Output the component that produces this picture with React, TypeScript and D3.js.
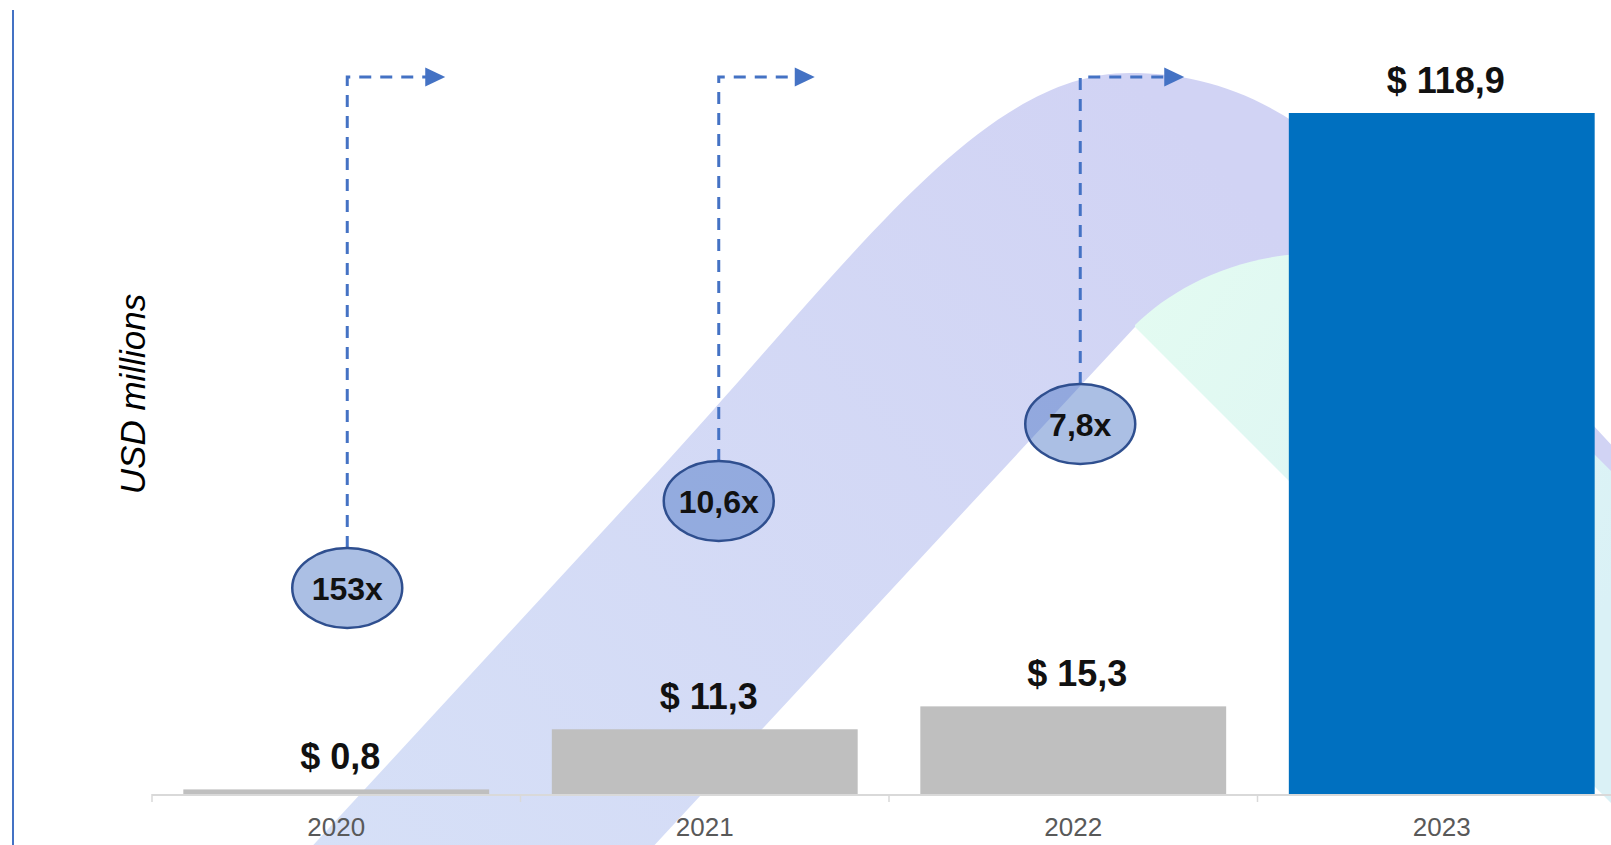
import React from "react";
import * as d3 from "d3";

// ---- data ----
const years = ["2020", "2021", "2022", "2023"];
const revenue = [0.8, 11.3, 15.3, 118.9];
const multiples = ["153x", "10,6x", "7,8x"];
const axisTitle = "USD millions";

// ---- layout ----
const W = 1611;
const H = 845;
const baseY = 794;
const badgeY = [588, 501, 424];
const badgeDx = [11, 14, 7];
const arrowLen = [98, 96, 104];
const arrowY = 77;

const FONT = "'Liberation Sans', Arial, Helvetica, sans-serif";

export default function App() {
  const x = d3
    .scaleBand<string>()
    .domain(years)
    .range([152, 1626])
    .paddingInner(0.17)
    .paddingOuter(0.085);
  const y = d3.scaleLinear().domain([0, 130]).range([baseY, baseY - 130 * 5.7275]);
  const step = x.step();
  const bw = x.bandwidth();
  const fmt = (v: number) => "$ " + v.toFixed(1).replace(".", ",");

  // decorative lavender ribbon
  const C = { x: 1135, y: 327 };
  const u = { x: 0.678, y: -0.735 };
  const n = { x: 0.735, y: 0.678 };
  const p0 = { x: 650, y: 480 };
  const start = { x: p0.x - 600 * u.x, y: p0.y - 600 * u.y };
  const rib = d3.path();
  rib.moveTo(start.x, start.y);
  rib.lineTo(p0.x, p0.y);
  rib.bezierCurveTo(p0.x + 300 * u.x, p0.y + 300 * u.y, 980, 73, 1130, 73);
  rib.bezierCurveTo(1210, 73, 1290, 100, 1380, 195);
  rib.lineTo(1380 + 600, 195 + 600 * 1.08);
  rib.lineTo(C.x + 900 + 1.5, C.y + 900 - 1.5);
  rib.lineTo(C.x + 1.5, C.y - 1.5);
  rib.lineTo(C.x, C.y);
  rib.lineTo(start.x + 250 * n.x, start.y + 250 * n.y);
  rib.closePath();

  const mint = d3.path();
  mint.moveTo(C.x, C.y - 2);
  mint.bezierCurveTo(1170, 290, 1230, 258, 1300, 254);
  mint.bezierCurveTo(1380, 252, 1500, 360, 1597, 457);
  mint.lineTo(1900, 760);
  mint.lineTo(C.x + 900, C.y + 900);
  mint.lineTo(C.x, C.y);
  mint.closePath();

  return (
    <div style={{ position: "absolute", left: 0, top: 0, width: W, height: H, background: "#fff" }}>
      <svg width={W} height={H} style={{ display: "block" }}>
        <defs>
          <linearGradient id="lav" gradientUnits="userSpaceOnUse" x1={300} y1={845} x2={1135} y2={75}>
            <stop offset="0" stopColor="#d6e0f7" />
            <stop offset="1" stopColor="#d1d3f4" />
          </linearGradient>
          <linearGradient id="mint" gradientUnits="userSpaceOnUse" x1={1135} y1={300} x2={1611} y2={600}>
            <stop offset="0" stopColor="#e3fbf1" />
            <stop offset="1" stopColor="#daf1f6" />
          </linearGradient>
        </defs>
        <rect x={0} y={0} width={W} height={H} fill="#fff" />
        <line x1={13} y1={10} x2={13} y2={H} stroke="#4472c4" strokeWidth={2} />

        {/* decorative ribbons */}
        <path d={rib.toString()} fill="url(#lav)" />
        <path d={mint.toString()} fill="url(#mint)" />

        {/* bars */}
        {years.map((yr, i) => (
          <rect
            key={yr}
            x={x(yr)}
            y={y(revenue[i])}
            width={bw}
            height={baseY - y(revenue[i])}
            fill={i === years.length - 1 ? "#0070c0" : "#bfbfbf"}
          />
        ))}

        {/* axis */}
        <line x1={152} y1={baseY + 1} x2={W} y2={baseY + 1} stroke="#d9d9d9" strokeWidth={2} />
        {years.map((yr, i) => (
          <line
            key={"t" + yr}
            x1={152 + i * step}
            x2={152 + i * step}
            y1={baseY}
            y2={baseY + 8}
            stroke="#d9d9d9"
            strokeWidth={1.5}
          />
        ))}
        {years.map((yr) => (
          <text
            key={"l" + yr}
            x={(x(yr) as number) + bw / 2}
            y={836}
            textAnchor="middle"
            fontFamily={FONT}
            fontSize={26}
            fill="#595959"
          >
            {yr}
          </text>
        ))}

        {/* value labels */}
        {years.map((yr, i) => (
          <text
            key={"v" + yr}
            x={(x(yr) as number) + bw / 2 + 4}
            y={y(revenue[i]) - 20}
            textAnchor="middle"
            fontFamily={FONT}
            fontWeight="bold"
            fontSize={36}
            fill="#111"
          >
            {fmt(revenue[i])}
          </text>
        ))}

        {/* y title */}
        <text
          transform={`translate(145,394) rotate(-90)`}
          textAnchor="middle"
          fontFamily={FONT}
          fontStyle="italic"
          fontSize={35}
          fill="#000"
        >
          {axisTitle}
        </text>

        {/* growth badges with dashed arrows */}
        {multiples.map((m, i) => {
          const cx = (x(years[i]) as number) + bw / 2 + badgeDx[i];
          const cy = badgeY[i];
          const rx = 55;
          const ry = 40;
          const L = arrowLen[i];
          return (
            <g key={"m" + i}>
              <path
                d={`M${cx},${cy - ry} L${cx},${arrowY} L${cx + L - 18},${arrowY}`}
                fill="none"
                stroke="#4472c4"
                strokeWidth={3}
                strokeDasharray="12 9"
              />
              <polygon
                points={`${cx + L},${arrowY} ${cx + L - 20},${arrowY - 9.5} ${cx + L - 20},${arrowY + 9.5}`}
                fill="#4472c4"
              />
              <ellipse
                cx={cx}
                cy={cy}
                rx={rx}
                ry={ry}
                fill="#4472c4"
                fillOpacity={0.45}
                stroke="#2f4f8f"
                strokeWidth={2.5}
              />
              <text
                x={cx}
                y={cy + 11.5}
                textAnchor="middle"
                fontFamily={FONT}
                fontWeight="bold"
                fontSize={32}
                fill="#111"
              >
                {m}
              </text>
            </g>
          );
        })}
      </svg>
    </div>
  );
}
